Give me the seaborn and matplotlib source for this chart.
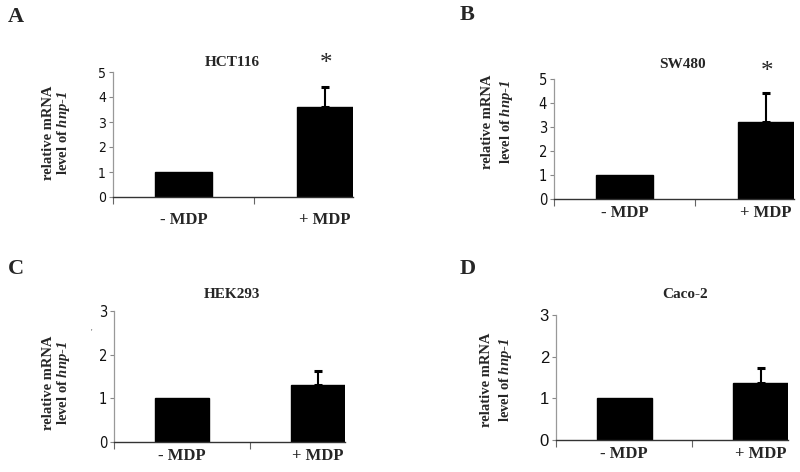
import numpy as np
import pandas as pd
import matplotlib
matplotlib.use('Agg')
import matplotlib.pyplot as plt
from matplotlib import font_manager
import seaborn as sns

# data
conditions = ['- MDP', '+ MDP']
panels = ['A', 'B', 'C', 'D']
cell_lines = ['HCT116', 'SW480', 'HEK293', 'Caco-2']
means = {
    'HCT116': [1.0, 3.6],
    'SW480': [1.0, 3.2],
    'HEK293': [1.0, 1.3],
    'Caco-2': [1.0, 1.38],
}
upper_err = {
    'HCT116': [0.0, 0.8],
    'SW480': [0.0, 1.2],
    'HEK293': [0.0, 0.32],
    'Caco-2': [0.0, 0.35],
}
significant = {'HCT116': True, 'SW480': True, 'HEK293': False, 'Caco-2': False}
y_max = {'HCT116': 5, 'SW480': 5, 'HEK293': 3, 'Caco-2': 3}

sns.set_theme(style='white')
plt.rcParams['font.family'] = ['Liberation Serif', 'DejaVu Serif']
plt.rcParams['mathtext.fontset'] = 'custom'
plt.rcParams['mathtext.rm'] = 'Liberation Serif:bold'
plt.rcParams['mathtext.bf'] = 'Liberation Serif:bold'
plt.rcParams['mathtext.it'] = 'Liberation Serif:italic:bold'
plt.rcParams['mathtext.bfit'] = 'Liberation Serif:italic:bold'

installed = {f.name for f in font_manager.fontManager.ttflist}
narrow = 'Liberation Sans Narrow' if 'Liberation Sans Narrow' in installed else 'DejaVu Sans'

W, H = 800, 472
fig = plt.figure(figsize=(8, 4.72), dpi=100)


def px(x, y):
    return x / W, 1 - y / H


def rect(left, top, right, bottom):
    return [left / W, 1 - bottom / H, (right - left) / W, (bottom - top) / H]


# layout (pixels): axes box, title, star, ylabel centre, panel letter, tick font, label pad
layout = {
    'HCT116': dict(box=(113, 72, 353, 197), title=(232, 63), star=(326, 64),
                   ylab=(57, 133), lsp=0.95, letter=(8, 17), tfont=narrow, tsize=10, pad=11),
    'SW480': dict(box=(554, 79, 794, 199), title=(682, 65), star=(767, 72),
                  ylab=(498, 122), lsp=1.35, letter=(460, 15), tfont=narrow, tsize=10.5, pad=4),
    'HEK293': dict(box=(114, 311, 345, 442), title=(232, 295), star=None,
                   ylab=(57, 383), lsp=1.05, letter=(8, 269), tfont=narrow, tsize=10.5, pad=4),
    'Caco-2': dict(box=(556, 315, 788, 440), title=(685, 295), star=None,
                   ylab=(497, 380), lsp=1.3, letter=(460, 269), tfont='Liberation Sans', tsize=12, pad=4),
}

for letter, cell in zip(panels, cell_lines):
    L = layout[cell]
    ax = fig.add_axes(rect(*L['box']))
    df = pd.DataFrame({'condition': conditions, 'value': means[cell]})
    sns.barplot(data=df, x='condition', y='value', color='black', width=0.4,
                errorbar=None, saturation=1, ax=ax)
    for p in ax.patches:
        p.set_edgecolor('black')
    err = np.array(upper_err[cell])
    vals = np.array(means[cell])
    has_err = err > 0
    ax.errorbar(np.arange(len(conditions))[has_err], vals[has_err],
                yerr=[np.zeros(has_err.sum()), err[has_err]], fmt='none', ecolor='black',
                elinewidth=1.5, capsize=3, capthick=2.2)
    ax.set_xlim(-0.5, 1.2)
    ax.set_ylim(0, y_max[cell])
    ax.set_yticks(range(y_max[cell] + 1))
    ax.set_xlabel('')
    ax.set_ylabel('')
    ax.set_xticks([-0.5, 0.5], minor=True)
    ax.tick_params(axis='x', which='minor', direction='out', length=5, width=0.8,
                   color='#666666', bottom=True)
    ax.tick_params(axis='x', which='major', length=0, pad=L['pad'])
    ax.tick_params(axis='y', direction='out', length=3, width=0.8, color='#888888',
                   left=True, pad=2)
    for t in ax.get_xticklabels():
        t.set_fontfamily('Liberation Serif')
        t.set_fontweight('bold')
        t.set_fontsize(12)
    for t in ax.get_yticklabels():
        t.set_fontfamily(L['tfont'])
        if L['tfont'] != 'Liberation Sans':
            t.set_fontstretch('condensed')
        t.set_fontsize(L['tsize'])
        t.set_color('#111111')
    sns.despine(ax=ax)
    ax.spines['left'].set_color('#999999')
    ax.spines['left'].set_linewidth(0.9)
    ax.spines['bottom'].set_color('#333333')
    ax.spines['bottom'].set_linewidth(1.0)

    fig.text(*px(*L['title']), cell, ha='center', va='center',
             fontsize=11, fontweight='bold')
    if L['star'] is not None:
        fig.text(*px(*L['star']), '*', ha='center', va='center', fontsize=18)
    fig.text(*px(*L['ylab']), 'relative mRNA\nlevel of $\\mathbfit{hnp}$-$\\mathbfit{1}$',
             rotation=90, ha='center', va='center', multialignment='center',
             fontsize=10.5, fontweight='bold', linespacing=L['lsp'])
    fig.text(*px(*L['letter']), letter, ha='left', va='center',
             fontsize=16, fontweight='bold')

# small stray mark in panel C
fig.text(*px(91, 333), "'", ha='center', va='center', fontsize=6, color='#555555')

fig.savefig('out.png', dpi=100)
